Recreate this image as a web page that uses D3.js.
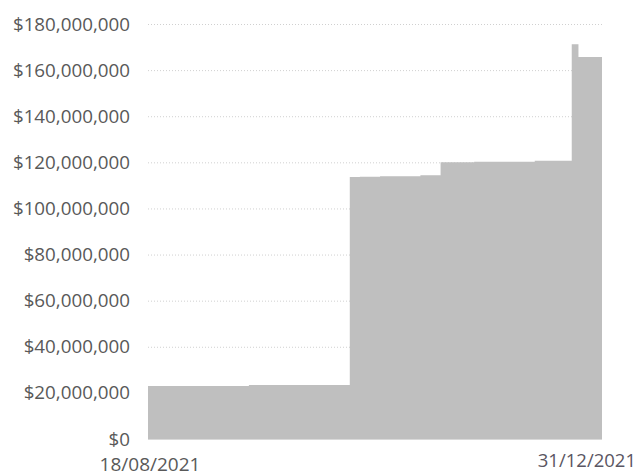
<!DOCTYPE html>
<html>
<head>
<meta charset="utf-8">
<script src="https://cdn.jsdelivr.net/npm/d3@7"></script>
<style>
  body { margin: 0; background: #fff; overflow: hidden; }
  text { font-family: "Open Sans", sans-serif; }
</style>
</head>
<body>
<div id="chart"></div>
<script>
// data
var dates = ["2021-08-18", "2021-09-17", "2021-10-17", "2021-10-20", "2021-10-26",
  "2021-11-07", "2021-11-13", "2021-11-23", "2021-12-11", "2021-12-22", "2021-12-24", "2021-12-31"];
var values = [23000000, 23400000, 113600000, 113800000, 114000000,
  114400000, 120000000, 120300000, 120700000, 171200000, 165700000, 165700000];
var yTicks = [0, 20000000, 40000000, 60000000, 80000000, 100000000,
  120000000, 140000000, 160000000, 180000000];
var xLabels = ["18/08/2021", "31/12/2021"];

var svgWidth = 638;
var svgHeight = 471;

var margin = { top: 24, right: 36, bottom: 32, left: 148 };
var width = svgWidth - margin.left - margin.right;
var height = svgHeight - margin.top - margin.bottom;

var svg = d3.select("#chart")
  .append("svg")
  .attr("width", svgWidth)
  .attr("height", svgHeight)
  .style("display", "block");

var chartGroup = svg.append("g")
  .attr("transform", `translate(${margin.left}, ${margin.top})`);

var parse = d3.timeParse("%Y-%m-%d");
var data = dates.map((d, i) => ({ date: parse(d), value: values[i] }));

var xScale = d3.scaleTime()
  .domain(d3.extent(data, d => d.date))
  .range([0, width]);

var yScale = d3.scaleLinear()
  .domain([0, 180000000])
  .range([height, 0]);

// dotted gridlines
chartGroup.append("g")
  .selectAll("line")
  .data(yTicks.filter(t => t > 0))
  .enter()
  .append("line")
  .attr("x1", 0)
  .attr("x2", width)
  .attr("y1", d => yScale(d) + 0.5)
  .attr("y2", d => yScale(d) + 0.5)
  .attr("stroke", "#d0d0d0")
  .attr("stroke-width", 1)
  .attr("stroke-dasharray", "1,2");

// stepped area
var area = d3.area()
  .curve(d3.curveStepAfter)
  .x(d => xScale(d.date))
  .y0(yScale(0))
  .y1(d => yScale(d.value));

chartGroup.append("path")
  .datum(data)
  .attr("d", area)
  .attr("fill", "#bfbfbf");

// baseline
chartGroup.append("line")
  .attr("x1", 0)
  .attr("x2", width)
  .attr("y1", yScale(0) + 0.5)
  .attr("y2", yScale(0) + 0.5)
  .attr("stroke", "#d9d9d9");

// y axis labels
var fmt = d3.format(",");
chartGroup.append("g")
  .selectAll("text")
  .data(yTicks)
  .enter()
  .append("text")
  .attr("x", -18)
  .attr("y", d => yScale(d))
  .attr("dy", "0.35em")
  .attr("text-anchor", "end")
  .attr("font-size", 18.8)
  .attr("fill", "#595959")
  .text(d => "$" + fmt(d));

// x axis labels (first and last date)
chartGroup.append("text")
  .attr("x", xScale(data[0].date) + 2)
  .attr("y", height + 31.5)
  .attr("text-anchor", "middle")
  .attr("font-size", 19)
  .attr("fill", "#595959")
  .text(xLabels[0]);

chartGroup.append("text")
  .attr("x", xScale(data[data.length - 1].date) + 34)
  .attr("y", height + 28)
  .attr("text-anchor", "end")
  .attr("font-size", 18.5)
  .attr("fill", "#5a5662")
  .text(xLabels[1]);
</script>
</body>
</html>
